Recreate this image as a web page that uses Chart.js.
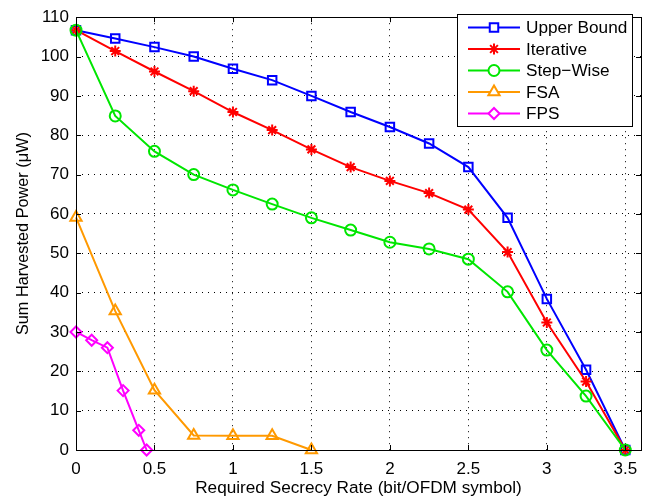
<!DOCTYPE html>
<html>
<head>
<meta charset="utf-8">
<script src="https://cdn.jsdelivr.net/npm/chart.js@4/dist/chart.umd.min.js"></script>
<style>
  html, body { margin: 0; padding: 0; background: #fff; }
  #wrap { width: 662px; height: 499px; }
</style>
</head>
<body>
<div id="wrap"><canvas id="chart" width="662" height="499"></canvas></div>
<script>
const rateX      = [0, 0.25, 0.5, 0.75, 1, 1.25, 1.5, 1.75, 2, 2.25, 2.5, 2.75, 3, 3.25, 3.5];
const upperBound = [106.7, 104.6, 102.4, 100.0, 96.9, 94.0, 90.0, 85.9, 82.1, 77.9, 71.9, 59.0, 38.4, 20.4, 0];
const iterative  = [106.7, 101.4, 96.2, 91.2, 85.9, 81.3, 76.4, 71.9, 68.4, 65.3, 61.1, 50.3, 32.4, 17.4, 0];
const stepWise   = [106.7, 84.9, 75.9, 70.0, 66.1, 62.5, 59.0, 55.9, 52.8, 51.1, 48.5, 40.2, 25.4, 13.7, 0];

const fsaX = [0, 0.25, 0.5, 0.75, 1, 1.25, 1.5];
const fsa  = [59.1, 35.3, 15.2, 3.7, 3.6, 3.6, 0];

const fpsX = [0, 0.1, 0.2, 0.3, 0.4, 0.45];
const fps  = [30.0, 27.9, 26.0, 15.1, 5.0, 0];

const xTicks = [0, 0.5, 1, 1.5, 2, 2.5, 3, 3.5];
const yTicks = [0, 10, 20, 30, 40, 50, 60, 70, 80, 90, 100, 110];

const FONT = '"Liberation Sans", Arial, Helvetica, sans-serif';

function toPoints(xs, ys) { return xs.map((x, i) => ({ x, y: ys[i] })); }

function buildSeries(label, xs, ys, color, pointStyle, radius, order) {
  return {
    label,
    data: toPoints(xs, ys),
    borderColor: color,
    backgroundColor: 'transparent',
    pointBorderColor: color,
    pointBackgroundColor: 'transparent',
    borderWidth: 2,
    pointBorderWidth: 2,
    pointStyle,
    pointRadius: radius,
    tension: 0,
    clip: false,
    order
  };
}

const datasets = [
  buildSeries('Upper Bound', rateX, upperBound, '#0000ff', 'rect', 6, 5),
  buildSeries('Iterative',   rateX, iterative,  '#ff0000', 'star', 5.5, 4),
  buildSeries('Step\u2212Wise', rateX, stepWise, '#00e600', 'circle', 5.5, 3),
  buildSeries('FSA',         fsaX,  fsa,        '#ff9900', 'triangle', 6.5, 2),
  buildSeries('FPS',         fpsX,  fps,        '#ff00ff', 'rectRot', 5.5, 1)
];

// box, inward ticks and the legend in the upper right corner
const frameAndLegend = {
  id: 'frameAndLegend',
  afterDraw(chart) {
    const { ctx, chartArea: a, scales } = chart;
    ctx.save();
    ctx.strokeStyle = '#000';
    ctx.lineWidth = 1;
    ctx.setLineDash([]);
    const tl = 5;
    ctx.beginPath();
    xTicks.forEach(v => {
      const px = Math.round(scales.x.getPixelForValue(v)) + 0.5;
      ctx.moveTo(px, a.bottom); ctx.lineTo(px, a.bottom - tl);
      ctx.moveTo(px, a.top);    ctx.lineTo(px, a.top + tl);
    });
    yTicks.forEach(v => {
      const py = Math.round(scales.y.getPixelForValue(v)) + 0.5;
      ctx.moveTo(a.left, py);  ctx.lineTo(a.left + tl, py);
      ctx.moveTo(a.right, py); ctx.lineTo(a.right - tl, py);
    });
    ctx.stroke();
    ctx.strokeRect(Math.round(a.left) + 0.5, Math.round(a.top) + 0.5,
                   Math.round(a.right - a.left), Math.round(a.bottom - a.top));

    // legend
    const lx = 457, ly = 14, lw = 175, lh = 112;
    ctx.fillStyle = '#fff';
    ctx.fillRect(lx, ly, lw, lh);
    ctx.strokeRect(lx + 0.5, ly + 0.5, lw, lh);
    ctx.font = '17.2px ' + FONT;
    ctx.textBaseline = 'middle';
    datasets.forEach((ds, i) => {
      const y = 27.5 + i * 21.5;
      ctx.strokeStyle = ds.borderColor;
      ctx.lineWidth = 2;
      ctx.beginPath();
      ctx.moveTo(468, y); ctx.lineTo(520, y);
      ctx.stroke();
      ctx.fillStyle = '#fff';
      Chart.helpers.drawPoint(ctx, {
        pointStyle: ds.pointStyle, radius: ds.pointRadius, rotation: 0, borderWidth: 2
      }, 494, y);
      ctx.fillStyle = '#000';
      ctx.fillText(ds.label, 526, y + 1);
    });
    ctx.restore();
  }
};

new Chart(document.getElementById('chart'), {
  type: 'line',
  data: { datasets },
  options: {
    responsive: false,
    animation: false,
    events: [],
    layout: { padding: { top: 5, right: 21, left: 0, bottom: 0 } },
    plugins: { legend: { display: false }, tooltip: { enabled: false } },
    scales: {
      x: {
        type: 'linear',
        min: 0,
        max: 3.6,
        afterBuildTicks: s => { s.ticks = xTicks.map(v => ({ value: v })); },
        afterFit: s => { s.height = 49; },
        grid: { color: '#000', lineWidth: 1, drawTicks: false },
        border: { display: false, dash: [1, 5] },
        ticks: {
          color: '#000',
          padding: 9,
          maxRotation: 0,
          font: { family: FONT, size: 17 },
          callback: v => String(v)
        },
        title: {
          display: true,
          text: 'Required Secrecy Rate (bit/OFDM symbol)',
          color: '#000',
          font: { family: FONT, size: 17.2 },
          padding: { top: 1, bottom: 0 }
        }
      },
      y: {
        min: 0,
        max: 110,
        afterBuildTicks: s => { s.ticks = yTicks.map(v => ({ value: v })); },
        afterFit: s => { s.width = 76; },
        grid: { color: '#000', lineWidth: 1, drawTicks: false },
        border: { display: false, dash: [1, 5] },
        ticks: {
          color: '#000',
          padding: 7,
          font: { family: FONT, size: 17 },
          callback: v => String(v)
        },
        title: {
          display: true,
          text: 'Sum Harvested Power (\u03bcW)',
          color: '#000',
          font: { family: FONT, size: 16.3 },
          padding: { top: 14, bottom: 0 }
        }
      }
    }
  },
  plugins: [frameAndLegend]
});
</script>
</body>
</html>
